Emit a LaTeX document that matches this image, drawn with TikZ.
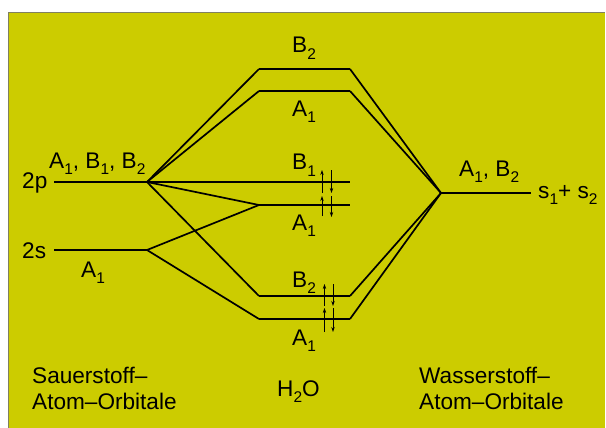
\documentclass[tikz,border=0pt]{standalone}
\usepackage{fontspec}
\setmainfont{Liberation Sans}
\usetikzlibrary{arrows.meta}
\definecolor{bgyellow}{RGB}{204,204,0}
\definecolor{edgegray}{RGB}{128,128,96}
\newcommand\lsub[1]{\raisebox{-6pt}{\fontsize{15.5}{15.5}\selectfont #1}}
\tikzset{
  lvl/.style={line width=2.4pt},
  conn/.style={line width=1.7pt},
  thinconn/.style={line width=1.2pt},
  lab/.style={anchor=base west, inner sep=0pt, font=\fontsize{22.6}{26}\selectfont},
  spin/.style={line width=0.9pt, -{Stealth[length=5pt,width=3.4pt]}}
}
\begin{document}
\begin{tikzpicture}[x=1pt,y=-1pt]
\useasboundingbox (0,0) rectangle (606,428);
\fill[white] (0,0) rectangle (606,428);
\fill[bgyellow] (8,12) rectangle (605,428);
\draw[edgegray, line width=1pt] (8.5,428) -- (8.5,12.5) -- (605,12.5);
% coordinates of levels
\coordinate (pL) at (54,182); \coordinate (pR) at (147,182);
\coordinate (sL) at (54,250); \coordinate (sR) at (147,250);
\coordinate (hL) at (441,193); \coordinate (hR) at (531,193);
\coordinate (b2tL) at (259,69); \coordinate (b2tR) at (350,69);
\coordinate (a1tL) at (259,91); \coordinate (a1tR) at (350,91);
\coordinate (b1L) at (259,182); \coordinate (b1R) at (350,182);
\coordinate (a1mL) at (259,205); \coordinate (a1mR) at (350,205);
\coordinate (b2bL) at (259,296); \coordinate (b2bR) at (350,296);
\coordinate (a1bL) at (259,319); \coordinate (a1bR) at (350,319);
% levels
\draw[lvl] (pL) -- (pR);
\draw[lvl] (sL) -- (sR);
\draw[lvl] (hL) -- (hR);
\draw[lvl] (b2tL) -- (b2tR);
\draw[lvl] (a1tL) -- (a1tR);
\draw[lvl] (b1L) -- (b1R);
\draw[lvl] (a1mL) -- (a1mR);
\draw[lvl] (b2bL) -- (b2bR);
\draw[lvl] (a1bL) -- (a1bR);
% connectors from O 2p
\draw[conn] (pR) -- (b2tL);
\draw[conn] (pR) -- (a1tL);
\draw[thinconn] (pR) -- (b1L);
\draw[conn] (pR) -- (a1mL);
\draw[conn] (pR) -- (b2bL);
% from O 2s
\draw[conn] (sR) -- (a1mL);
\draw[conn] (sR) -- (a1bL);
% from H
\draw[conn] (b2tR) -- (hL);
\draw[conn] (a1tR) -- (hL);
\draw[conn] (b2bR) -- (hL);
\draw[conn] (a1bR) -- (hL);
% electron spins
\coordinate (u1a) at (322,193); \coordinate (u1b) at (322,170);
\coordinate (d1a) at (331.5,170); \coordinate (d1b) at (331.5,193);
\coordinate (u2a) at (322,216); \coordinate (u2b) at (322,196);
\coordinate (d2a) at (331.5,196); \coordinate (d2b) at (331.5,217);
\draw[spin] (u1a) -- (u1b);
\draw[spin] (d1a) -- (d1b);
\draw[spin] (u2a) -- (u2b);
\draw[spin] (d2a) -- (d2b);
\coordinate (u3a) at (324.5,306); \coordinate (u3b) at (324.5,284);
\coordinate (d3a) at (333,284); \coordinate (d3b) at (333,306);
\coordinate (u4a) at (324.5,332); \coordinate (u4b) at (324.5,308);
\coordinate (d4a) at (333,308); \coordinate (d4b) at (333,332);
\draw[spin] (u3a) -- (u3b);
\draw[spin] (d3a) -- (d3b);
\draw[spin] (u4a) -- (u4b);
\draw[spin] (d4a) -- (d4b);
% labels
\node[lab] (l2p) at (22,189) {2p};
\node[lab] (l2s) at (22,258) {2s};
\node[lab] (lO) at (49,168) {A\lsub{1}, B\lsub{1}, B\lsub{2}};
\node[lab] (lOs) at (81,277) {A\lsub{1}};
\node[lab] (lb2t) at (292,53) {B\lsub{2}};
\node[lab] (la1t) at (292,117) {A\lsub{1}};
\node[lab] (lb1) at (292,170) {B\lsub{1}};
\node[lab] (la1m) at (292,230) {A\lsub{1}};
\node[lab] (lb2b) at (292,287) {B\lsub{2}};
\node[lab] (la1b) at (292,345) {A\lsub{1}};
\node[lab] (lH) at (459,176) {A\lsub{1}, B\lsub{2}};
\node[lab] (lss) at (538,198) {s\lsub{1}+ s\lsub{2}};
\node[lab, align=left] (lSauer) at (32,409) {Sauerstoff–\\Atom–Orbitale};
\node[lab] (lH2O) at (277,396) {H\lsub{2}O};
\node[lab, align=left] (lWasser) at (419,409) {Wasserstoff–\\Atom–Orbitale};
\end{tikzpicture}
\end{document}
